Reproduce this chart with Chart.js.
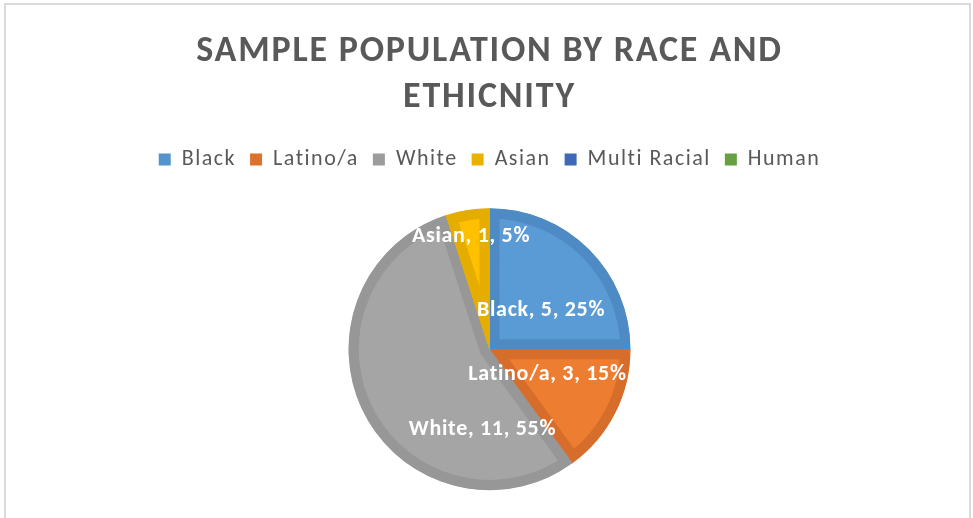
<!DOCTYPE html>
<html>
<head>
<meta charset="utf-8">
<script src="https://cdn.jsdelivr.net/npm/chart.js@4/dist/chart.umd.min.js"></script>
<style>
  html, body { margin: 0; padding: 0; background: #fff; }
  #wrap { width: 973px; height: 518px; position: relative; }
</style>
</head>
<body>
<div id="wrap"><canvas id="c" width="973" height="518"></canvas></div>
<script>
const categories = ['Black', 'Latino/a', 'White', 'Asian', 'Multi Racial', 'Human'];
const counts = [5, 3, 11, 1, 0, 0];
const titleLines = ['SAMPLE POPULATION BY RACE AND', 'ETHICNITY'];

const fillColors = ['#5B9BD5', '#ED7D31', '#A5A5A5', '#FFC000', '#4472C4', '#70AD47'];
const edgeColors = ['#4E8AC3', '#D66D2A', '#979797', '#E5AD00', '#3C65B0', '#62993D'];
const legendColors = ['#5393CE', '#DD722D', '#9C9C9C', '#EAB100', '#3F68B8', '#66A040'];
// label placement: angle (deg clockwise from top) and radius fraction
const labelPlace = [[53, 0.458], [113.3, 0.448], [185, 0.57], [350.7, 0.81], [0, 0], [0, 0]];

const FONT = "Carlito, 'Open Sans', 'Liberation Sans', sans-serif";

function withSpacing(obj, names, ls) {
  if (!obj || obj.__spaced) return;
  obj.__spaced = true;
  names.forEach(n => {
    const orig = obj[n];
    obj[n] = function (...args) {
      const ctx = this.ctx;
      const prev = ctx.letterSpacing;
      ctx.letterSpacing = ls;
      try { return orig.apply(this, args); } finally { ctx.letterSpacing = prev; }
    };
  });
}

const spacingPatch = {
  id: 'spacingPatch',
  beforeLayout(chart) {
    withSpacing(chart.titleBlock, ['draw'], '1.8px');
    withSpacing(chart.legend, ['fit', 'draw'], '1.5px');
  }
};

const frame = {
  id: 'frame',
  beforeDraw(chart) {
    const ctx = chart.ctx;
    ctx.save();
    ctx.fillStyle = '#ffffff';
    ctx.fillRect(0, 0, chart.width, chart.height);
    ctx.strokeStyle = '#D9D9D9';
    ctx.lineWidth = 2;
    ctx.strokeRect(5, 4, 965, 530);
    ctx.restore();
  }
};

const sliceLabels = {
  id: 'sliceLabels',
  afterDatasetsDraw(chart) {
    const ctx = chart.ctx;
    const meta = chart.getDatasetMeta(0);
    const data = chart.data.datasets[0].data;
    const total = data.reduce((a, b) => a + b, 0);
    ctx.save();
    ctx.font = "bold 22px " + FONT;
    ctx.letterSpacing = '0.7px';
    ctx.fillStyle = '#FFFFFF';
    ctx.textAlign = 'center';
    ctx.textBaseline = 'middle';
    meta.data.forEach((arc, i) => {
      if (!data[i]) return;
      const r = arc.outerRadius * labelPlace[i][1];
      const a = (labelPlace[i][0] - 90) * Math.PI / 180;
      const x = arc.x + r * Math.cos(a);
      const y = arc.y + r * Math.sin(a);
      const pct = Math.round(data[i] / total * 100);
      ctx.fillText(categories[i] + ', ' + data[i] + ', ' + pct + '%', x, y);
    });
    ctx.restore();
  }
};

new Chart(document.getElementById('c'), {
  type: 'pie',
  data: {
    labels: categories,
    datasets: [{
      data: counts,
      backgroundColor: fillColors,
      borderColor: edgeColors,
      borderWidth: 10,
      borderAlign: 'inner'
    }]
  },
  options: {
    responsive: false,
    animation: false,
    events: [],
    radius: 141,
    layout: { padding: { top: 0, bottom: 0, left: 6, right: 0 } },
    plugins: {
      tooltip: { enabled: false },
      title: {
        display: true,
        text: titleLines,
        color: '#595959',
        font: { family: FONT, size: 36, weight: 'bold', lineHeight: 1.27 },
        padding: { top: 29, bottom: 14 }
      },
      legend: {
        position: 'top',
        labels: {
          color: '#595959',
          font: { family: FONT, size: 22 },
          boxWidth: 12,
          boxHeight: 12,
          padding: 14,
          generateLabels(chart) {
            return categories.map((c, i) => ({
              text: c,
              fillStyle: legendColors[i],
              strokeStyle: legendColors[i],
              lineWidth: 0,
              fontColor: '#595959',
              index: i,
              hidden: false
            }));
          }
        }
      }
    }
  },
  plugins: [spacingPatch, frame, sliceLabels]
});
</script>
</body>
</html>
